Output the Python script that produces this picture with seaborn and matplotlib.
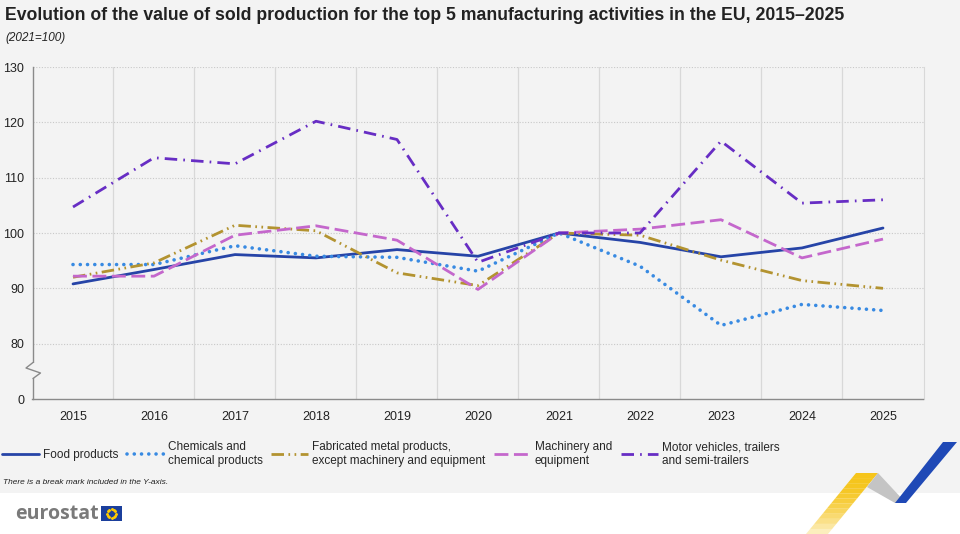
import numpy as np
import pandas as pd
import matplotlib.pyplot as plt
import seaborn as sns
from matplotlib.patches import Rectangle, Polygon
from matplotlib.lines import Line2D

# data (index 2021=100)
years = list(range(2015, 2026))
food = [90.8, 93.4, 96.1, 95.5, 97.0, 95.8, 100.0, 98.3, 95.7, 97.3, 100.9]
chemicals = [94.3, 94.3, 97.7, 95.8, 95.6, 93.1, 100.0, 94.0, 83.3, 87.1, 86.0]
metal = [92.0, 94.6, 101.4, 100.4, 92.8, 90.5, 100.0, 99.6, 95.1, 91.4, 90.0]
machinery = [92.2, 92.2, 99.6, 101.3, 98.7, 89.8, 100.0, 100.7, 102.4, 95.5, 98.9]
motor = [104.7, 113.6, 112.5, 120.2, 116.9, 94.7, 100.0, 100.0, 116.6, 105.4, 106.0]

labels = ["Food products", "Chemicals and\nchemical products",
          "Fabricated metal products,\nexcept machinery and equipment",
          "Machinery and\nequipment", "Motor vehicles, trailers\nand semi-trailers"]
series = [food, chemicals, metal, machinery, motor]
colors = ["#2644a7", "#388ae2", "#b39330", "#c467cc", "#672dc4"]
dashes = ["-", (0, (0.01, 2.0)), (0, (4.5, 1.6, 0.6, 1.6, 0.6, 1.6)),
          (0, (5, 2)), (0, (4.5, 2.2, 0.6, 2.2))]

y_ticks = [70, 80, 90, 100, 110, 120, 130]
y_labels = ["0", "80", "90", "100", "110", "120", "130"]

sns.set_style("white")
plt.rcParams['font.family'] = ['Liberation Sans', 'DejaVu Sans']

bg = "#f3f3f3"
fig = plt.figure(figsize=(9.6, 5.34), dpi=100, facecolor="white")
fig.patches.append(Rectangle((0, 1 - 493 / 534), 1, 493 / 534, transform=fig.transFigure,
                             facecolor=bg, edgecolor="none", zorder=-5))

ax = fig.add_axes([32.5 / 960, 1 - 399 / 534, (923.5 - 32.5) / 960, (399 - 67) / 534])
ax.set_facecolor(bg)

df = pd.DataFrame({"year": years * len(labels),
                   "value": [v for s in series for v in s],
                   "series": [lab for lab in labels for _ in years]})

for lab, col, ls in zip(labels, colors, dashes):
    sub = df[df["series"] == lab]
    sns.lineplot(data=sub, x="year", y="value", ax=ax, color=col, linestyle=ls,
                 linewidth=2.6 if lab.startswith("Chem") else 2.0,
                 dash_capstyle="round" if lab.startswith("Chem") else "butt",
                 label=lab, legend=False, zorder=3)

ax.set_xlim(2014.5, 2025.5)
ax.set_ylim(70, 130)
ax.set_xticks(years)
ax.set_xticklabels([str(y) for y in years], fontsize=9, color="#222222")
ax.set_yticks(y_ticks)
ax.set_yticklabels(y_labels, fontsize=9, color="#222222")
ax.tick_params(axis="y", length=0, pad=6)
ax.tick_params(axis="x", length=0, pad=9)
ax.set_xlabel("")
ax.set_ylabel("")

for y in y_ticks[1:]:
    ax.axhline(y, color="#c8c8c8", lw=0.8, ls=(0, (1, 1.5)), zorder=1)
for x in np.arange(2015.5, 2025.5, 1):
    ax.axvline(x, color="#d8d8d8", lw=0.9, zorder=1)

ax.spines["top"].set_visible(False)
ax.spines["right"].set_color("#d8d8d8")
ax.spines["left"].set_color("#8a8a8a")
ax.spines["bottom"].set_color("#8a8a8a")
ax.spines["left"].set_linewidth(1)
ax.spines["bottom"].set_linewidth(1)

# overlay in pixel coordinates for decorations
ov = fig.add_axes([0, 0, 1, 1], zorder=5)
ov.set_xlim(0, 960)
ov.set_ylim(534, 0)
ov.axis("off")
ov.patch.set_alpha(0)

# axis break mark
ov.add_patch(Rectangle((31.5, 363), 3, 15, facecolor=bg, edgecolor="none"))
ov.plot([33, 26, 40.5, 33], [362.5, 368, 373, 378.5], color="#8a8a8a", lw=1)

fig.text(5 / 960, 1 - 15 / 534, "Evolution of the value of sold production for the top 5 manufacturing "
         "activities in the EU, 2015\u20132025", fontsize=12.7, fontweight="bold",
         color="#222222", ha="left", va="center")
fig.text(5 / 960, 1 - 38 / 534, "(2021=100)", fontsize=8.5, style="italic",
         color="#222222", ha="left", va="center")

handles = [Line2D([0], [0], color=c, linestyle=ls,
                  lw=2.6 if i == 1 else 2.0,
                  dash_capstyle="round" if i == 1 else "butt")
           for i, (c, ls) in enumerate(zip(colors, dashes))]
fig.legend(handles, labels, loc="upper left", bbox_to_anchor=(2 / 960, 1 - 441 / 534),
           ncol=5, frameon=False, fontsize=8.5, handlelength=3.1, handletextpad=0.35,
           columnspacing=0.75, borderaxespad=0, borderpad=0, labelspacing=0.2,
           alignment="left")

fig.text(3 / 960, 1 - 483 / 534, "There is a break mark included in the Y-axis.",
         fontsize=6, style="italic", color="#222222", ha="left", va="center")

# eurostat logo
fig.text(15 / 960, 1 - 514 / 534, "eurostat", fontsize=14, fontweight="bold",
         color="#7a7a7a", ha="left", va="center", family=["Open Sans", "DejaVu Sans"])
ov.add_patch(Rectangle((101, 506), 21, 15, facecolor="#1b3f9c", edgecolor="none"))
ang = np.linspace(0, 2 * np.pi, 13)[:-1]
ov.scatter(111.5 + 4.5 * np.cos(ang), 513.5 + 4.5 * np.sin(ang), s=1.2, color="#ffcc00", zorder=6)

# chevron decoration (yellow band fades towards the bottom)
n = 12
for i in range(n):
    t0, t1 = i / n, (i + 1) / n
    top_l, top_r = np.array([856, 473]), np.array([878, 473])
    bot_l, bot_r = np.array([806, 534]), np.array([828, 534])
    pts = [top_l + (bot_l - top_l) * t0, top_r + (bot_r - top_r) * t0,
           top_r + (bot_r - top_r) * t1, top_l + (bot_l - top_l) * t1]
    ov.add_patch(Polygon(pts, closed=True, facecolor="#f6c51b", edgecolor="none",
                         alpha=1 - 0.85 * t0 ** 2))
ov.add_patch(Polygon([(878, 473), (906, 503), (895, 503), (867, 487)],
                     closed=True, facecolor="#c4c4c4", edgecolor="none"))
ov.add_patch(Polygon([(895, 503), (906, 503), (957, 442), (943, 442)],
                     closed=True, facecolor="#1f49b6", edgecolor="none"))

fig.savefig("out.png", dpi=100, facecolor=fig.get_facecolor())
